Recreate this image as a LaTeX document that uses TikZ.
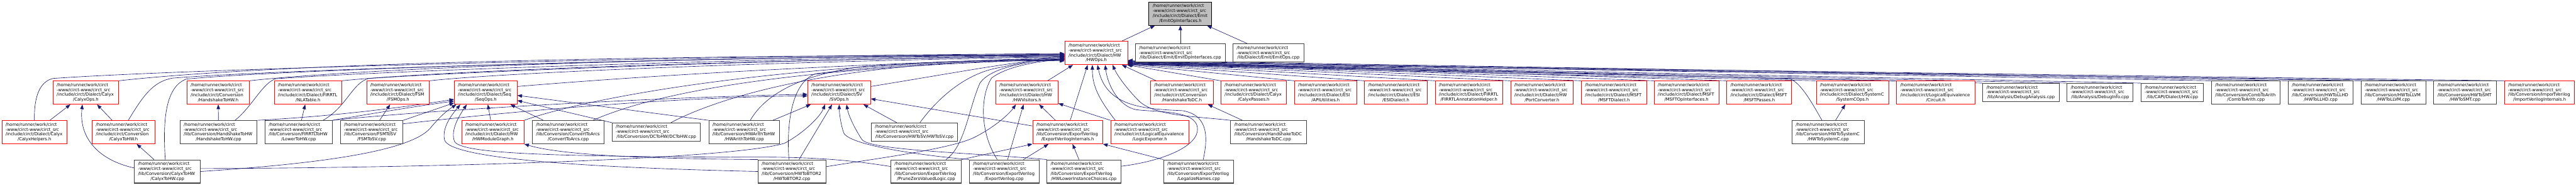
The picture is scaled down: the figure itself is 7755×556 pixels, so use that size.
\documentclass[tikz,border=0pt]{standalone}
\usepackage{fontspec}
\newfontfamily\dvs{DejaVu Sans}
\usetikzlibrary{arrows.meta}
\pgfdeclarelayer{bg}
\pgfsetlayers{bg,main}
\definecolor{edgec}{HTML}{191970}
\definecolor{greyA}{HTML}{404040}
\definecolor{greyB}{HTML}{BFBFBF}
\newcommand\hdrl{\mbox{/home/runner/work/circt}\\\mbox{-www/circt-www/circt\_src}\\}
\newcommand\lastl[1]{\hbox to\hsize{\hss#1\hss}}
\newcommand\mkbox[7]{\node[#1,minimum width=#5pt,minimum height=#6pt] (#2) at (#3,#4) {\parbox{\dimexpr#5pt-22pt\relax}{\raggedright #7}};}
\begin{document}
\begin{tikzpicture}[x=1pt,y=-1pt,
  base/.style={anchor=north west, inner sep=0pt, fill=white, font=\dvs\fontsize{12.8pt}{14.8pt}\selectfont},
  rbox/.style={base, draw=red, line width=1.4pt},
  kbox/.style={base, draw=greyA, line width=1.9pt},
  gbox/.style={base, draw=black, fill=greyB, line width=1.9pt},
  lnk/.style={draw=edgec, line width=1.2pt, -{Triangle[length=14pt,width=10.5pt]}}]
\useasboundingbox (0,0) rectangle (7755,556);
% row 0 / 1
\mkbox{gbox}{n0}{3458}{5}{189}{70}{\hdrl\mbox{/include/circt/Dialect/Emit}\\\lastl{/EmitOpInterfaces.h}}
\mkbox{rbox}{hwops}{3205}{124}{189}{70}{\hdrl\mbox{/include/circt/Dialect/HW}\\\lastl{/HWOps.h}}
\mkbox{kbox}{eoicpp}{3417}{131}{271}{55}{\hdrl\lastl{/lib/Dialect/Emit/EmitOpInterfaces.cpp}}
\mkbox{kbox}{eopscpp}{3711}{131}{213}{55}{\hdrl\lastl{/lib/Dialect/Emit/EmitOps.cpp}}
% row 2
\mkbox{rbox}{calyxops}{159}{243}{197}{70}{\hdrl\mbox{/include/circt/Dialect/Calyx}\\\lastl{/CalyxOps.h}}
\mkbox{rbox}{hs2hwh}{562}{243}{188}{70}{\hdrl\mbox{/include/circt/Conversion}\\\lastl{/HandshakeToHW.h}}
\mkbox{rbox}{nla}{825}{243}{203}{70}{\hdrl\mbox{/include/circt/Dialect/FIRRTL}\\\lastl{/NLATable.h}}
\mkbox{rbox}{fsmops}{1103}{243}{189}{70}{\hdrl\mbox{/include/circt/Dialect/FSM}\\\lastl{/FSMOps.h}}
\mkbox{rbox}{seqops}{1367}{243}{189}{70}{\hdrl\mbox{/include/circt/Dialect/Seq}\\\lastl{/SeqOps.h}}
\mkbox{rbox}{svops}{2431}{243}{189}{70}{\hdrl\mbox{/include/circt/Dialect/SV}\\\lastl{/SVOps.h}}
\mkbox{rbox}{hwvis}{2997}{243}{188}{70}{\hdrl\mbox{/include/circt/Dialect/HW}\\\lastl{/HWVisitors.h}}
\mkbox{rbox}{hs2dch}{3463}{243}{189}{70}{\hdrl\mbox{/include/circt/Conversion}\\\lastl{/HandshakeToDC.h}}
\mkbox{rbox}{calyxpasses}{3675}{243}{197}{70}{\hdrl\mbox{/include/circt/Dialect/Calyx}\\\lastl{/CalyxPasses.h}}
\mkbox{rbox}{apiutil}{3896}{243}{188}{70}{\hdrl\mbox{/include/circt/Dialect/ESI}\\\lastl{/APIUtilities.h}}
\mkbox{rbox}{esid}{4107}{243}{189}{70}{\hdrl\mbox{/include/circt/Dialect/ESI}\\\lastl{/ESIDialect.h}}
\mkbox{rbox}{firanno}{4320}{243}{203}{70}{\hdrl\mbox{/include/circt/Dialect/FIRRTL}\\\lastl{/FIRRTLAnnotationHelper.h}}
\mkbox{rbox}{portconv}{4547}{243}{189}{70}{\hdrl\mbox{/include/circt/Dialect/HW}\\\lastl{/PortConverter.h}}
\mkbox{rbox}{msftd}{4760}{243}{196}{70}{\hdrl\mbox{/include/circt/Dialect/MSFT}\\\lastl{/MSFTDialect.h}}
\mkbox{rbox}{msftoi}{4979}{243}{195}{70}{\hdrl\mbox{/include/circt/Dialect/MSFT}\\\lastl{/MSFTOpInterfaces.h}}
\mkbox{rbox}{msftp}{5198}{243}{195}{70}{\hdrl\mbox{/include/circt/Dialect/MSFT}\\\lastl{/MSFTPasses.h}}
\mkbox{rbox}{syscops}{5467}{243}{218}{70}{\hdrl\mbox{/include/circt/Dialect/SystemC}\\\lastl{/SystemCOps.h}}
\mkbox{rbox}{circuit}{5709}{243}{235}{70}{\hdrl\mbox{/include/circt/LogicalEquivalence}\\\lastl{/Circuit.h}}
\mkbox{kbox}{dbganal}{5968}{250}{230}{55}{\hdrl\lastl{/lib/Analysis/DebugAnalysis.cpp}}
\mkbox{kbox}{dbginfo}{6222}{250}{199}{55}{\hdrl\lastl{/lib/Analysis/DebugInfo.cpp}}
\mkbox{kbox}{hwcapi}{6445}{250}{188}{55}{\hdrl\lastl{/lib/CAPI/Dialect/HW.cpp}}
\mkbox{kbox}{comb2arith}{6657}{243}{207}{70}{\hdrl\mbox{/lib/Conversion/CombToArith}\\\lastl{/CombToArith.cpp}}
\mkbox{kbox}{hw2llhd}{6888}{243}{195}{70}{\hdrl\mbox{/lib/Conversion/HWToLLHD}\\\lastl{/HWToLLHD.cpp}}
\mkbox{kbox}{hw2llvm}{7107}{243}{195}{70}{\hdrl\mbox{/lib/Conversion/HWToLLVM}\\\lastl{/HWToLLVM.cpp}}
\mkbox{kbox}{hw2smt}{7326}{243}{188}{70}{\hdrl\mbox{/lib/Conversion/HWToSMT}\\\lastl{/HWToSMT.cpp}}
\mkbox{rbox}{importv}{7539}{243}{211}{70}{\hdrl\mbox{/lib/Conversion/ImportVerilog}\\\lastl{/ImportVerilogInternals.h}}
% row 3
\mkbox{rbox}{calyxhelp}{5}{362}{196}{70}{\hdrl\mbox{/include/circt/Dialect/Calyx}\\\lastl{/CalyxHelpers.h}}
\mkbox{rbox}{calyx2hwh}{277}{362}{188}{70}{\hdrl\mbox{/include/circt/Conversion}\\\lastl{/CalyxToHW.h}}
\mkbox{kbox}{hs2hwcpp}{541}{362}{232}{70}{\hdrl\mbox{/lib/Conversion/HandshakeToHW}\\\lastl{/HandshakeToHW.cpp}}
\mkbox{kbox}{lower2hw}{797}{362}{202}{70}{\hdrl\mbox{/lib/Conversion/FIRRTLToHW}\\\lastl{/LowerToHW.cpp}}
\mkbox{kbox}{fsm2sv}{1024}{362}{188}{70}{\hdrl\mbox{/lib/Conversion/FSMToSV}\\\lastl{/FSMToSV.cpp}}
\mkbox{rbox}{hwmodgraph}{1389}{362}{188}{70}{\hdrl\mbox{/include/circt/Dialect/HW}\\\lastl{/HWModuleGraph.h}}
\mkbox{kbox}{conv2arcs}{1602}{362}{216}{70}{\hdrl\mbox{/lib/Conversion/ConvertToArcs}\\\lastl{/ConvertToArcs.cpp}}
\mkbox{kbox}{dc2hw}{1842}{369}{266}{55}{\hdrl\lastl{/lib/Conversion/DCToHW/DCToHW.cpp}}
\mkbox{kbox}{hwarith}{2133}{362}{213}{70}{\hdrl\mbox{/lib/Conversion/HWArithToHW}\\\lastl{/HWArithToHW.cpp}}
\mkbox{kbox}{hw2sv}{2622}{369}{260}{55}{\hdrl\lastl{/lib/Conversion/HWToSV/HWToSV.cpp}}
\mkbox{rbox}{evint}{3108}{362}{211}{70}{\hdrl\mbox{/lib/Conversion/ExportVerilog}\\\lastl{/ExportVerilogInternals.h}}
\mkbox{rbox}{logicexp}{3343}{362}{235}{70}{\hdrl\mbox{/include/circt/LogicalEquivalence}\\\lastl{/LogicExporter.h}}
\mkbox{kbox}{hs2dccpp}{3704}{362}{228}{70}{\hdrl\mbox{/lib/Conversion/HandshakeToDC}\\\lastl{/HandshakeToDC.cpp}}
\mkbox{kbox}{hw2sysc}{5394}{362}{218}{70}{\hdrl\mbox{/lib/Conversion/HWToSystemC}\\\lastl{/HWToSystemC.cpp}}
% row 4
\mkbox{kbox}{calyx2hwcpp}{404}{480}{198}{70}{\hdrl\mbox{/lib/Conversion/CalyxToHW}\\\lastl{/CalyxToHW.cpp}}
\mkbox{kbox}{hw2btor2}{2281}{480}{204}{70}{\hdrl\mbox{/lib/Conversion/HWToBTOR2}\\\lastl{/HWToBTOR2.cpp}}
\mkbox{kbox}{prunezero}{2681}{480}{212}{70}{\hdrl\mbox{/lib/Conversion/ExportVerilog}\\\lastl{/PruneZeroValuedLogic.cpp}}
\mkbox{kbox}{exportv}{2917}{480}{210}{70}{\hdrl\mbox{/lib/Conversion/ExportVerilog}\\\lastl{/ExportVerilog.cpp}}
\mkbox{kbox}{hwlowerinst}{3151}{480}{222}{70}{\hdrl\mbox{/lib/Conversion/ExportVerilog}\\\lastl{/HWLowerInstanceChoices.cpp}}
\mkbox{kbox}{legalize}{3502}{480}{211}{70}{\hdrl\mbox{/lib/Conversion/ExportVerilog}\\\lastl{/LegalizeNames.cpp}}

\begin{pgfonlayer}{bg}
\fill[white] (0,0) rectangle (7755,556);
% into EmitOpInterfaces.h
\draw[lnk] (hwops) -- (n0);
\draw[lnk] (eoicpp) -- (n0);
\draw[lnk] (eopscpp) -- (n0);
% left side into HWOps.h
\draw[lnk] (calyxops.north east) .. controls (700,205) and (1500,168) .. (hwops.183);
\draw[lnk] (hs2hwh.north east) .. controls (1000,215) and (1800,172) .. (hwops.184);
\draw[lnk] (nla.north east) .. controls (1300,215) and (2200,180) .. (hwops.186);
\draw[lnk] (fsmops.north east) .. controls (1500,220) and (2300,185) .. (hwops.187);
\draw[lnk] (seqops.11) .. controls (2100,215) and (2700,190) .. (hwops.188);
\draw[lnk] (svops.11) .. controls (2900,215) and (3050,185) .. (hwops.189);
\draw[lnk] (calyxhelp.north) .. controls (102,290) and (120,245) .. (160,236) .. controls (600,205) and (2200,166) .. (hwops.181);
\draw[lnk] (calyx2hwh.68) .. controls (430,290) and (460,245) .. (520,235) .. controls (900,205) and (2300,170) .. (hwops.182);
\draw[lnk] (calyx2hwcpp.100) .. controls (488,340) and (505,260) .. (560,238) .. controls (900,205) and (2300,168) .. (hwops.183);
\draw[lnk] (hs2hwcpp.36) .. controls (760,320) and (790,250) .. (830,237) .. controls (1200,210) and (2400,172) .. (hwops.184);
\draw[lnk] (lower2hw.26) .. controls (1045,320) and (1060,250) .. (1110,236) .. controls (1500,210) and (2500,175) .. (hwops.185);
\draw[lnk] (hwmodgraph.north east) .. controls (1750,300) and (2300,190) .. (hwops.190);
\draw[lnk] (conv2arcs.26) .. controls (1950,290) and (2300,205) .. (hwops.191);
\draw[lnk] (dc2hw.33) .. controls (2150,300) and (2500,180) .. (hwops.192);
\draw[lnk] (hwarith.63) .. controls (2300,290) and (2400,225) .. (2600,200) .. controls (2900,180) and (3100,178) .. (hwops.193);
\draw[lnk] (hw2btor2.104) .. controls (2368,380) and (2380,250) .. (2455,222) .. controls (2700,190) and (3050,180) .. (hwops.194);
\draw[lnk] (hw2sv.60) .. controls (2820,300) and (2900,225) .. (3000,205) .. controls (3100,185) and (3150,172) .. (hwops.186);
\draw[lnk] (prunezero.31) .. controls (2905,440) and (2915,330) .. (2950,250) .. controls (2985,200) and (3100,185) .. (hwops.190);
\draw[lnk] (exportv.120) .. controls (2950,400) and (2950,290) .. (2985,235) .. controls (3030,200) and (3120,185) .. (hwops.191);
% below into HWOps.h
\draw[lnk] (hwvis.30) -- (hwops.207);
\draw[lnk] (evint.78) -- (hwops.234);
\draw[lnk] (logicexp.161) .. controls (3310,300) and (3288,260) .. (hwops.252);
\draw[lnk] (legalize.69) .. controls (3640,400) and (3630,345) .. (3560,333) .. controls (3440,328) and (3330,320) .. (hwops.276);
\draw[lnk] (hwlowerinst.8) .. controls (3500,485) and (3610,440) .. (3605,385) .. controls (3600,330) and (3480,338) .. (3420,330) .. controls (3370,320) and (3335,260) .. (hwops.307);
\draw[lnk] (hs2dccpp.north west) .. controls (3600,350) and (3480,350) .. (3430,305) .. controls (3395,270) and (3365,230) .. (hwops.324);
\draw[lnk] (hs2dch) -- (hwops);
\draw[lnk] (calyxpasses.north west) -- (hwops.339);
% right side into HWOps.h
\foreach \n/\a in {apiutil/340, esid/341, firanno/342, portconv/343, msftd/344, msftoi/345, msftp/346, syscops/340, circuit/341, dbganal/342, dbginfo/343, hwcapi/344, comb2arith/345, hw2llhd/346, hw2llvm/347, hw2smt/342, importv/344}
  {\draw[lnk] (\n.north west) -- (hwops.\a);}
\draw[lnk] (hw2sysc.118) .. controls (5450,300) and (5420,250) .. (5390,238) .. controls (5000,225) and (4000,200) .. (hwops.341);
% Calyx
\draw[lnk] (calyxhelp) -- (calyxops);
\draw[lnk] (calyx2hwh) -- (calyxops);
\draw[lnk] (calyx2hwcpp.174) .. controls (290,480) and (238,410) .. (calyxops.254);
\draw[lnk] (calyx2hwcpp) -- (calyx2hwh);
\draw[lnk] (hs2hwcpp) -- (hs2hwh);
\draw[lnk] (lower2hw) -- (nla);
\draw[lnk] (fsm2sv) -- (fsmops);
% SeqOps.h
\draw[lnk] (hwmodgraph) -- (seqops);
\draw[lnk] (conv2arcs) -- (seqops);
\draw[lnk] (dc2hw.north west) -- (seqops.346);
\draw[lnk] (hwarith.north west) -- (seqops.355);
\draw[lnk] (hs2hwcpp.north east) .. controls (1000,350) and (1200,325) .. (seqops.192);
\draw[lnk] (lower2hw.north east) .. controls (1100,345) and (1250,320) .. (seqops.195);
\draw[lnk] (fsm2sv.north east) -- (seqops.198);
\draw[lnk] (calyx2hwcpp.east) .. controls (1000,490) and (1250,450) .. (1300,380) .. controls (1330,345) and (1350,330) .. (seqops.202);
\draw[lnk] (hw2btor2.west) .. controls (1800,505) and (1350,480) .. (1338,420) .. controls (1330,380) and (1365,340) .. (seqops.205);
\draw[lnk] (prunezero.172) .. controls (2560,482) and (2450,470) .. (2200,473) .. controls (1700,470) and (1385,465) .. (1368,425) .. controls (1355,390) and (1385,345) .. (seqops.212);
\draw[lnk] (hw2btor2.north west) .. controls (2000,478) and (1700,470) .. (hwmodgraph.south east);
% SVOps.h
\draw[lnk] (hw2sv.152) -- (svops.334);
\draw[lnk] (evint.170) -- (svops.349);
\draw[lnk] (hwarith) -- (svops);
\draw[lnk] (hw2btor2) -- (svops);
\draw[lnk] (calyx2hwcpp.5) .. controls (1300,505) and (2200,480) .. (2362,431) .. controls (2420,400) and (2470,350) .. (svops.220);
\draw[lnk] (exportv.north west) .. controls (2800,470) and (2560,440) .. (2540,400) .. controls (2530,370) and (2527,340) .. (svops.270);
\draw[lnk] (hwlowerinst.north west) .. controls (2900,458) and (2620,452) .. (2595,420) .. controls (2575,390) and (2555,350) .. (svops.302);
\draw[lnk] (fsm2sv.15) .. controls (1500,340) and (2000,292) .. (svops.186);
\draw[lnk] (lower2hw.north east) .. controls (1300,330) and (2000,292) .. (svops.183);
% HWVisitors.h
\draw[lnk] (evint) -- (hwvis);
\draw[lnk] (exportv) -- (hwvis);
\draw[lnk] (logicexp.north west) -- (hwvis.341);
\draw[lnk] (hw2btor2.8) .. controls (2650,475) and (2850,450) .. (2930,415) .. controls (3000,380) and (3040,340) .. (hwvis.227);
% ExportVerilogInternals.h
\draw[lnk] (exportv) -- (evint);
\draw[lnk] (prunezero.north east) -- (evint.south west);
\draw[lnk] (legalize.north west) -- (evint.south east);
\draw[lnk] (hwlowerinst) -- (evint);
% others
\draw[lnk] (hs2dccpp) -- (hs2dch);
\draw[lnk] (hw2sysc) -- (syscops);
\end{pgfonlayer}
\end{tikzpicture}
\end{document}
